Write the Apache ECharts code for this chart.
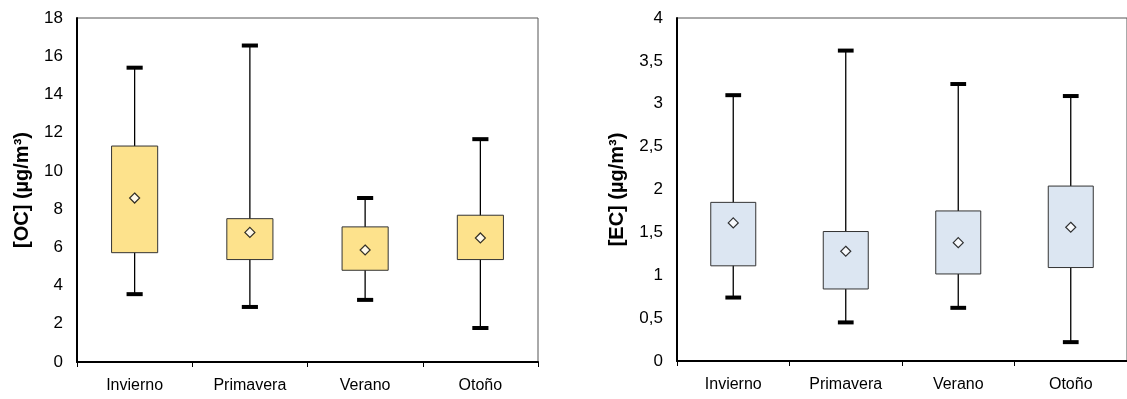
<!DOCTYPE html>
<html>
<head>
<meta charset="utf-8">
<script src="https://cdn.jsdelivr.net/npm/echarts@6/dist/echarts.min.js"></script>
<style>
  html, body { margin: 0; padding: 0; background: #fff; }
  #chart { width: 1127px; height: 399px; }
</style>
</head>
<body>
<div id="chart"></div>
<script>
const seasons = ['Invierno', 'Primavera', 'Verano', 'Otoño'];

// OC (left panel)
const ocMin = [3.55, 2.88, 3.25, 1.78];
const ocQ1 = [5.72, 5.36, 4.8, 5.36];
const ocQ3 = [11.3, 7.5, 7.07, 7.68];
const ocMax = [15.4, 16.56, 8.58, 11.66];
const ocMean = [8.58, 6.78, 5.86, 6.49];

// EC (right panel)
const ecMin = [0.74, 0.45, 0.62, 0.22];
const ecQ1 = [1.11, 0.84, 1.015, 1.09];
const ecQ3 = [1.85, 1.51, 1.75, 2.04];
const ecMax = [3.1, 3.62, 3.23, 3.09];
const ecMean = [1.61, 1.28, 1.38, 1.56];

const FONT = 'Liberation Sans, Arial, sans-serif';

function boxRows(min, q1, q3, max) {
  return seasons.map((s, i) => [i, min[i], q1[i], q3[i], max[i]]);
}

function renderBox(color) {
  return function (params, api) {
    const idx = api.value(0);
    const band = api.size([1, 0])[0];
    const boxW = band * 0.4;
    const capW = band * 0.14;
    const low = api.coord([idx, api.value(1)]);
    const q1 = api.coord([idx, api.value(2)]);
    const q3 = api.coord([idx, api.value(3)]);
    const high = api.coord([idx, api.value(4)]);
    const x = low[0];
    const lineStyle = { stroke: '#000', lineWidth: 1.3 };
    const capStyle = { stroke: '#000', lineWidth: 4 };
    return {
      type: 'group',
      children: [
        { type: 'line', shape: { x1: x, y1: high[1], x2: x, y2: low[1] }, style: lineStyle },
        {
          type: 'rect',
          shape: { x: x - boxW / 2, y: q3[1], width: boxW, height: q1[1] - q3[1] },
          style: { fill: color, stroke: '#333', lineWidth: 1 }
        },
        { type: 'line', shape: { x1: x - capW / 2, y1: high[1], x2: x + capW / 2, y2: high[1] }, style: capStyle },
        { type: 'line', shape: { x1: x - capW / 2, y1: low[1], x2: x + capW / 2, y2: low[1] }, style: capStyle }
      ]
    };
  };
}

function xAxisFor(gridIndex) {
  return {
    type: 'category',
    gridIndex,
    data: seasons,
    boundaryGap: true,
    axisLine: { lineStyle: { color: '#000', width: 2 } },
    axisTick: { show: true, interval: 0, length: 5, lineStyle: { color: '#000', width: 1 } },
    axisLabel: { color: '#000', fontSize: 16, fontFamily: FONT, margin: 16 },
    splitLine: { show: false }
  };
}

const chart = echarts.init(document.getElementById('chart'));
chart.setOption({
  animation: false,
  backgroundColor: '#fff',
  grid: [
    { left: 77, top: 18, width: 461, height: 344, show: true, borderColor: '#555', borderWidth: 1 },
    { left: 677, top: 18, width: 457, height: 343, show: true, borderColor: '#555', borderWidth: 1 }
  ],
  xAxis: [xAxisFor(0), xAxisFor(1)],
  yAxis: [
    {
      type: 'value',
      gridIndex: 0,
      min: 0,
      max: 18,
      interval: 2,
      name: '[OC] (µg/m³)',
      nameLocation: 'middle',
      nameGap: 45,
      nameTextStyle: { color: '#000', fontSize: 20, fontWeight: 'bold', fontFamily: FONT },
      axisLine: { show: true, lineStyle: { color: '#000', width: 2 } },
      axisTick: { show: false },
      axisLabel: { color: '#000', fontSize: 17, fontFamily: FONT, margin: 14 },
      splitLine: { show: false }
    },
    {
      type: 'value',
      gridIndex: 1,
      min: 0,
      max: 4,
      interval: 0.5,
      name: '[EC] (µg/m³)',
      nameLocation: 'middle',
      nameGap: 50,
      nameTextStyle: { color: '#000', fontSize: 20, fontWeight: 'bold', fontFamily: FONT },
      axisLine: { show: true, lineStyle: { color: '#000', width: 2 } },
      axisTick: { show: false },
      axisLabel: {
        color: '#000',
        fontSize: 17,
        fontFamily: FONT,
        margin: 14,
        formatter: (v) => String(v).replace('.', ',')
      },
      splitLine: { show: false }
    }
  ],
  series: [
    {
      type: 'custom',
      xAxisIndex: 0,
      yAxisIndex: 0,
      renderItem: renderBox('#FDE28C'),
      encode: { x: 0, y: [1, 2, 3, 4] },
      data: boxRows(ocMin, ocQ1, ocQ3, ocMax)
    },
    {
      type: 'scatter',
      xAxisIndex: 0,
      yAxisIndex: 0,
      symbol: 'diamond',
      symbolSize: 10,
      itemStyle: { color: '#fff', borderColor: '#000', borderWidth: 1.2 },
      data: ocMean.map((v, i) => [i, v]),
      z: 5
    },
    {
      type: 'custom',
      xAxisIndex: 1,
      yAxisIndex: 1,
      renderItem: renderBox('#DCE6F2'),
      encode: { x: 0, y: [1, 2, 3, 4] },
      data: boxRows(ecMin, ecQ1, ecQ3, ecMax)
    },
    {
      type: 'scatter',
      xAxisIndex: 1,
      yAxisIndex: 1,
      symbol: 'diamond',
      symbolSize: 10,
      itemStyle: { color: '#fff', borderColor: '#000', borderWidth: 1.2 },
      data: ecMean.map((v, i) => [i, v]),
      z: 5
    }
  ]
});
</script>
</body>
</html>
